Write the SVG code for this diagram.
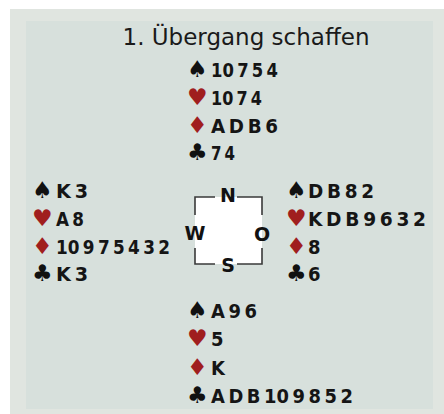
<svg xmlns="http://www.w3.org/2000/svg" width="444" height="414" viewBox="0 0 444 414">
<style>
.t{font-family:"DejaVu Sans",sans-serif;font-size:23px;fill:#1a1a1a}
.c{font-family:"DejaVu Sans Condensed","DejaVu Sans",sans-serif;font-weight:bold;font-size:20px;fill:#151515}
.s{font-family:"DejaVu Sans",sans-serif;font-size:23px;fill:#111}
.r{fill:#a01e1e}
.d{font-family:"DejaVu Sans",sans-serif;font-weight:bold;font-size:19px;fill:#111;text-anchor:middle}
.b{fill:none;stroke:#3a3a3a;stroke-width:1.6}
</style>
<rect x="10" y="9" width="434" height="405" fill="#e0e5e0"/>
<rect x="26" y="21" width="407" height="388" fill="#d7e0dc"/>
<text class="t" x="246" y="45" text-anchor="middle">1. Übergang schaffen</text>
<g id="north">
<text class="s" x="187" y="77">♠</text><text class="c" x="211" y="77" textLength="67" lengthAdjust="spacingAndGlyphs">10&#8201;7&#8201;5&#8201;4</text>
<text class="s r" x="187" y="105">♥</text><text class="c" x="211" y="105" textLength="51" lengthAdjust="spacingAndGlyphs">10&#8201;7&#8201;4</text>
<text class="s r" x="187" y="133">♦</text><text class="c" x="211" y="133" textLength="67" lengthAdjust="spacingAndGlyphs">A&#8201;D&#8201;B&#8201;6</text>
<text class="s" x="187" y="160">♣</text><text class="c" x="211" y="160" textLength="24" lengthAdjust="spacingAndGlyphs">7&#8201;4</text>
</g>
<g id="west">
<text class="s" x="32" y="198">♠</text><text class="c" x="56" y="198" textLength="32" lengthAdjust="spacingAndGlyphs">K&#8201;3</text>
<text class="s r" x="32" y="226">♥</text><text class="c" x="56" y="226" textLength="28" lengthAdjust="spacingAndGlyphs">A&#8201;8</text>
<text class="s r" x="32" y="254">♦</text><text class="c" x="56" y="254" textLength="114" lengthAdjust="spacingAndGlyphs">10&#8201;9&#8201;7&#8201;5&#8201;4&#8201;3&#8201;2</text>
<text class="s" x="32" y="281">♣</text><text class="c" x="56" y="281" textLength="32" lengthAdjust="spacingAndGlyphs">K&#8201;3</text>
</g>
<g id="east">
<text class="s" x="286" y="198">♠</text><text class="c" x="308" y="198" textLength="66" lengthAdjust="spacingAndGlyphs">D&#8201;B&#8201;8&#8201;2</text>
<text class="s r" x="286" y="226">♥</text><text class="c" x="308" y="226" textLength="118" lengthAdjust="spacingAndGlyphs">K&#8201;D&#8201;B&#8201;9&#8201;6&#8201;3&#8201;2</text>
<text class="s r" x="286" y="254">♦</text><text class="c" x="308" y="254">8</text>
<text class="s" x="286" y="281">♣</text><text class="c" x="308" y="281">6</text>
</g>
<g id="south">
<text class="s" x="187" y="318">♠</text><text class="c" x="211" y="318" textLength="46" lengthAdjust="spacingAndGlyphs">A&#8201;9&#8201;6</text>
<text class="s r" x="187" y="346">♥</text><text class="c" x="211" y="346">5</text>
<text class="s r" x="187" y="375">♦</text><text class="c" x="211" y="375">K</text>
<text class="s" x="187" y="403">♣</text><text class="c" x="211" y="403" textLength="142" lengthAdjust="spacingAndGlyphs">A&#8201;D&#8201;B&#8201;10&#8201;9&#8201;8&#8201;5&#8201;2</text>
</g>
<g id="compass">
<rect x="195" y="197" width="67" height="67" fill="#fff"/>
<path class="b" d="M195,215 V197 H215 M237,197 H262 V215 M195,248 V264 H215 M237,264 H262 V248"/>
<text class="d" x="228" y="202">N</text>
<text class="d" x="195" y="240">W</text>
<text class="d" x="262" y="241">O</text>
<text class="d" x="228" y="272">S</text>
</g>
</svg>
